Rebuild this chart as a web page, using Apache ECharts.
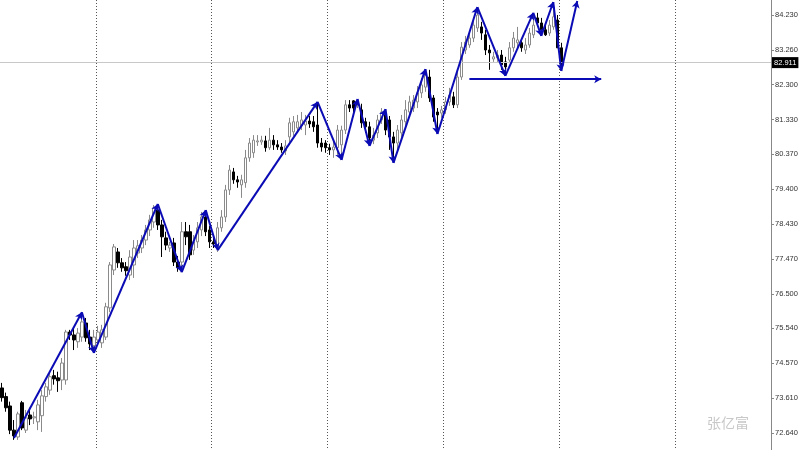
<!DOCTYPE html>
<html>
<head>
<meta charset="utf-8">
<script src="https://cdn.jsdelivr.net/npm/echarts@6/dist/echarts.min.js"></script>
<style>
  html, body { margin: 0; padding: 0; background: #fff; }
  #main { width: 800px; height: 450px; }
</style>
</head>
<body>
<div id="main"></div>
<script>
// 蜡烛数据 open / close / low / high
var opens = [73.89,73.65,73.39,72.72,72.53,73.48,72.72,73.14,73.06,72.95,
  73.12,73.65,73.83,74.23,74.17,74.11,74.11,75.44,75.36,75.17,
  75.30,75.69,75.30,75.06,75.22,75.14,75.30,76.11,77.16,77.66,
  77.36,77.25,77.02,77.30,77.63,77.77,77.99,78.27,78.49,78.82,
  78.41,78.05,77.77,77.91,77.38,77.38,78.22,78.22,77.71,77.94,
  78.27,78.63,78.27,77.94,77.77,78.33,78.63,79.38,79.88,79.66,
  79.52,79.58,80.27,80.41,80.71,80.71,80.74,80.55,80.76,80.63,
  80.57,80.46,80.85,80.99,81.10,81.16,81.18,81.29,81.27,81.18,
  80.68,80.68,80.55,80.49,80.55,80.63,81.04,81.74,81.85,81.74,
  81.60,81.27,81.13,80.76,80.96,81.32,81.46,81.32,80.85,80.68,
  80.96,81.27,81.54,81.65,81.82,82.07,82.23,82.51,81.93,81.54,
  81.51,81.60,81.82,81.96,81.74,82.51,83.26,83.40,83.59,83.87,
  83.90,83.68,83.26,83.01,83.04,83.12,82.93,82.98,83.32,83.46,
  83.46,83.26,83.40,83.68,84.15,84.01,83.82,83.73,83.90,84.09,
  83.32];
var closes = [73.62,73.34,72.72,72.56,73.17,72.78,73.06,73.03,73.09,73.42,
  73.67,73.92,74.20,74.14,74.09,74.58,75.44,75.36,75.22,75.41,
  75.72,75.28,75.11,75.30,75.44,75.50,76.14,77.30,77.80,77.36,
  77.22,77.14,77.52,77.77,77.83,77.99,78.27,78.55,78.88,78.41,
  78.08,77.85,77.85,77.38,77.22,78.22,78.08,77.58,77.94,78.33,
  78.63,78.22,77.94,77.88,78.33,78.63,79.38,79.93,79.66,79.60,
  79.66,80.27,80.68,80.76,80.74,80.76,80.55,80.76,80.63,80.57,
  80.49,80.60,81.24,81.27,81.27,81.32,81.29,81.21,81.13,80.68,
  80.57,80.55,80.49,80.57,81.04,81.04,81.74,81.65,81.65,81.82,
  81.24,81.13,80.82,80.90,81.32,81.54,81.04,80.85,80.68,81.04,
  81.32,81.60,81.82,81.87,82.07,82.29,82.62,81.93,81.40,81.46,
  81.60,81.82,82.01,81.74,82.51,83.34,83.48,83.59,83.95,84.23,
  83.73,83.26,83.18,83.07,83.12,82.85,82.79,83.32,83.59,83.54,
  83.32,83.40,83.73,83.95,84.01,83.82,83.68,83.95,84.18,83.32,
  82.91];
var lows = [73.51,73.23,72.61,72.45,72.45,72.72,72.64,72.86,72.89,72.72,
  72.67,73.51,73.70,73.98,73.78,73.83,73.98,75.22,74.94,75.00,
  75.17,75.17,74.94,74.86,75.08,75.00,75.22,75.99,77.02,77.22,
  77.11,77.00,76.88,76.94,77.49,77.63,77.85,78.10,78.33,78.27,
  77.52,77.71,77.66,77.27,77.11,77.10,77.85,77.44,77.58,77.77,
  78.10,78.10,77.77,77.77,77.66,78.22,78.49,79.24,79.55,79.44,
  79.16,79.44,80.16,80.27,80.60,80.63,80.44,80.49,80.49,80.49,
  80.41,80.35,80.71,80.88,80.96,81.04,80.90,81.10,80.99,80.55,
  80.44,80.41,80.35,80.27,80.35,80.21,80.93,81.54,81.54,81.65,
  81.10,80.96,80.60,80.65,80.82,81.21,80.90,80.49,80.13,80.49,
  80.76,81.10,81.38,81.54,81.65,81.93,82.10,81.82,81.27,80.93,
  81.38,81.49,81.71,81.65,81.65,82.43,83.15,83.32,83.48,83.76,
  83.54,83.12,82.71,82.93,82.93,82.71,82.54,82.93,83.21,83.32,
  83.21,83.15,83.32,83.59,83.90,83.65,83.65,83.65,83.82,83.32,
  82.68];
var highs = [74.03,73.76,73.51,73.00,73.23,73.53,73.28,73.34,73.23,73.56,
  73.83,74.03,74.34,74.39,74.34,74.72,75.50,75.50,75.55,75.55,
  75.99,75.83,75.50,75.50,75.61,75.64,76.25,77.38,77.88,77.77,
  77.49,77.38,77.71,77.99,77.99,78.13,78.41,78.69,78.96,78.99,
  78.55,78.22,77.94,78.05,77.55,78.49,78.49,78.41,78.13,78.49,
  78.77,78.82,78.38,78.05,78.49,78.82,79.52,80.07,79.99,79.77,
  79.80,80.49,80.82,80.90,80.90,80.88,80.88,81.10,80.90,80.76,
  80.68,80.76,81.38,81.43,81.46,81.54,81.46,81.43,81.43,81.82,
  80.82,80.76,80.66,80.71,81.18,81.16,81.87,81.87,81.87,81.90,
  81.77,81.38,81.27,81.10,81.46,81.65,81.62,81.43,80.99,81.18,
  81.46,81.87,81.99,82.01,82.26,82.48,82.73,82.71,82.01,81.65,
  81.71,81.96,82.21,82.10,82.65,83.48,83.65,83.76,84.15,84.45,
  84.04,83.82,83.40,83.21,83.26,83.26,83.07,83.48,83.76,83.90,
  83.59,83.59,83.87,84.29,84.29,84.15,83.96,84.09,84.59,84.23,
  83.46];

// 之字形顶点 [K线序号, 价格]
var zigzag = [[3,72.50],[20,75.99],[23,74.86],[39,78.99],[45,77.10],[51,78.82],
  [54,77.71],[79,81.82],[85,80.21],[89,81.90],[92,80.60],[96,81.62],[98,80.13],
  [106,82.73],[109,80.93],[119,84.45],[126,82.54],[133,84.29],[135,83.65],
  [138,84.59],[140,82.68],[144,84.62]];
var supportLine = [[117,82.45],[149.5,82.45]];
var lastPrice = 82.911;
var priceTicks = [72.640,73.610,74.570,75.540,76.500,77.470,78.430,79.400,
  80.370,81.330,82.300,83.260,84.230];

var axisFont = '"Liberation Sans", sans-serif';

var slotCount = 193;
var cats = [];
for (var i = 0; i < slotCount; i++) cats.push(String(i));

var kData = [];
for (var j = 0; j < opens.length; j++) {
    kData.push([opens[j], closes[j], lows[j], highs[j]]);
}

var zigLines = [];
for (var k = 0; k < zigzag.length - 1; k++) {
    zigLines.push([{coord: zigzag[k]}, {coord: zigzag[k + 1]}]);
}
zigLines.push([{coord: supportLine[0]}, {coord: supportLine[1]}]);

var myChart = echarts.init(document.getElementById('main'));
myChart.setOption({
    animation: false,
    backgroundColor: '#fff',
    title: {
        text: '张亿富',
        right: 46,
        bottom: 15,
        textStyle: {
            color: '#c8c8c8',
            fontSize: 14,
            fontWeight: 'normal',
            fontFamily: 'Noto Sans CJK SC'
        }
    },
    grid: { left: 0, right: 29, top: 0, bottom: 0, outerBoundsMode: 'none', containLabel: false },
    xAxis: {
        type: 'category',
        data: cats,
        boundaryGap: true,
        axisLine: { show: false },
        axisTick: { show: false },
        axisLabel: { show: false },
        splitLine: {
            show: true,
            interval: function (index) {
                return index >= 24 && (index - 24) % 29 === 0;
            },
            lineStyle: { color: '#555', type: [1, 2], width: 1 }
        }
    },
    yAxis: {
        type: 'value',
        position: 'right',
        min: 72.169,
        max: 84.646,
        scale: true,
        axisLine: { show: true, lineStyle: { color: '#888' } },
        axisTick: {
            show: true,
            length: 3,
            customValues: priceTicks,
            lineStyle: { color: '#888' }
        },
        axisLabel: {
            margin: 4,
            color: '#333',
            fontSize: 7.5,
            fontFamily: axisFont,
            customValues: priceTicks,
            formatter: function (v) { return v.toFixed(3); }
        },
        splitLine: { show: false }
    },
    series: [
        {
            type: 'candlestick',
            data: kData,
            barWidth: 3,
            itemStyle: {
                color: '#fff',
                color0: '#000',
                borderColor: '#8a8a8a',
                borderColor0: '#000',
                borderWidth: 1
            },
            markLine: {
                silent: true,
                symbol: ['none', 'none'],
                lineStyle: { color: '#c8c8c8', type: 'solid', width: 1 },
                label: {
                    show: true,
                    position: 'end',
                    distance: 1,
                    formatter: lastPrice.toFixed(3),
                    color: '#fff',
                    backgroundColor: '#000',
                    fontSize: 7.5,
                    fontFamily: axisFont,
                    padding: [2, 2, 1, 2]
                },
                data: [{ yAxis: lastPrice }]
            }
        },
        {
            type: 'line',
            data: [],
            markLine: {
                silent: true,
                symbol: ['none', 'arrow'],
                symbolSize: [6, 7],
                label: { show: false },
                lineStyle: { color: '#0b0bb5', type: 'solid', width: 2 },
                data: zigLines
            }
        }
    ]
});
</script>
</body>
</html>
